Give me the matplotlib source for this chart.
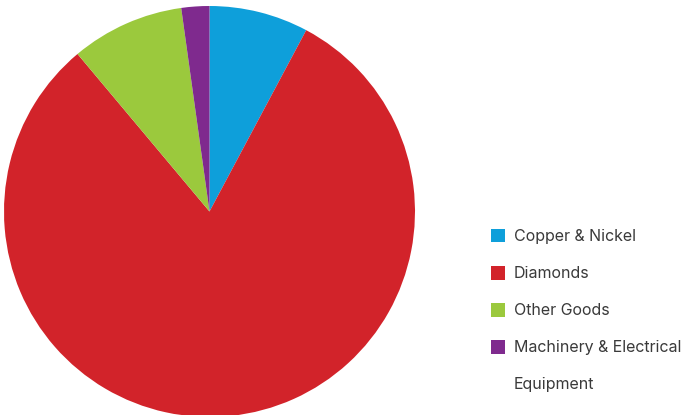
import matplotlib
matplotlib.use("Agg")
import matplotlib.pyplot as plt
from matplotlib.patches import Rectangle

categories = ["Copper & Nickel", "Diamonds", "Other Goods", "Machinery & Electrical\nEquipment"]
values = [7.8, 81.1, 8.9, 2.2]
colors = ["#0E9FDA", "#D2232A", "#9BC93D", "#7F2A8E"]

W, H = 684, 415
fig = plt.figure(figsize=(W / 100, H / 100), dpi=100)
ax = fig.add_axes([4 / W, (H - 417) / H, 411 / W, 411 / H])
ax.pie(values, colors=colors, startangle=90, counterclock=False,
       wedgeprops=dict(linewidth=0))
ax.set_xlim(-1, 1)
ax.set_ylim(-1, 1)
ax.set_aspect("equal")
ax.axis("off")

rows_y = [236, 273, 310, 347]
for name, col, y in zip(categories, colors, rows_y):
    fig.patches.append(Rectangle((491 / W, (H - y - 6.5) / H), 13.5 / W, 13.5 / H,
                                 transform=fig.transFigure, facecolor=col,
                                 edgecolor="none"))
    for i, line in enumerate(name.split("\n")):
        fig.text(514 / W, (H - y - 37 * i) / H, line, fontsize=11.5,
                 color="#3a3a3a", family="Inter", va="center")

fig.savefig("out.png", dpi=100)
